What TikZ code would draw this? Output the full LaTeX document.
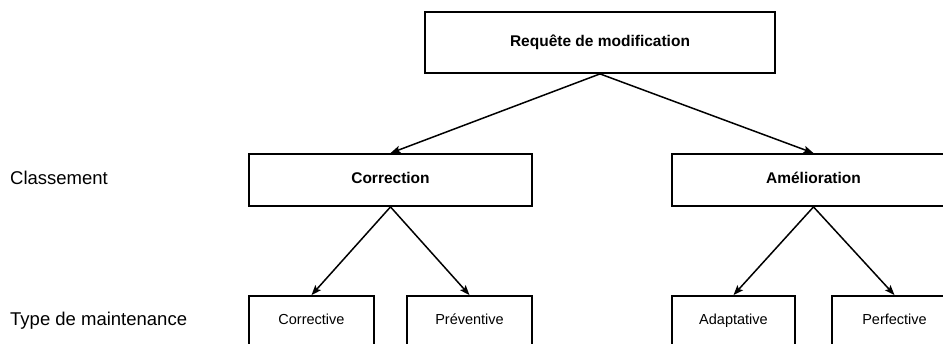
\documentclass[tikz,border=0pt]{standalone}
\usepackage{fontspec}
\setmainfont{Liberation Sans}
\usetikzlibrary{positioning,arrows.meta}

\begin{document}
\begin{tikzpicture}[x=1pt, y=-1pt,
  box/.style={draw, line width=1.8pt, inner sep=0pt, text height=11pt, text depth=3pt, minimum height=52pt, minimum width=283pt, font=\fontsize{15.5}{18}\selectfont\bfseries},
  leaf/.style={draw, line width=1.8pt, inner sep=0pt, text height=10.5pt, text depth=3pt, minimum height=50pt, minimum width=125pt, font=\fontsize{14.5}{17}\selectfont},
  lvl/.style={anchor=west, inner sep=0pt, text height=13pt, text depth=4pt, font=\fontsize{18.5}{21}\selectfont},
  arr/.style={-{Stealth[length=10pt, width=7.5pt, inset=2pt]}, line width=1.5pt}]
\clip (0,0) rectangle (943,344);
\node[box, minimum width=350pt, minimum height=61pt] (req) at (600,42.5) {Requête de modification};
\node[box] (cor) at (390.5,180) {Correction};
\node[box] (ame) at (813.5,180) {Amélioration};
\node[leaf] (crv) at (311.5,321) {Corrective};
\node[leaf] (prv) at (469.5,321) {Préventive};
\node[leaf, minimum width=123pt] (adp) at (733.5,321) {Adaptative};
\node[leaf] (prf) at (894.5,321) {Perfective};
\node[lvl] (cls) at (10,180) {Classement};
\node[lvl] (typ) at (10,321) {Type de maintenance};
\foreach \a/\b in {req/cor,req/ame,cor/crv,cor/prv,ame/adp,ame/prf} \draw[arr] (\a.south) -- (\b.north);
\end{tikzpicture}
\end{document}
